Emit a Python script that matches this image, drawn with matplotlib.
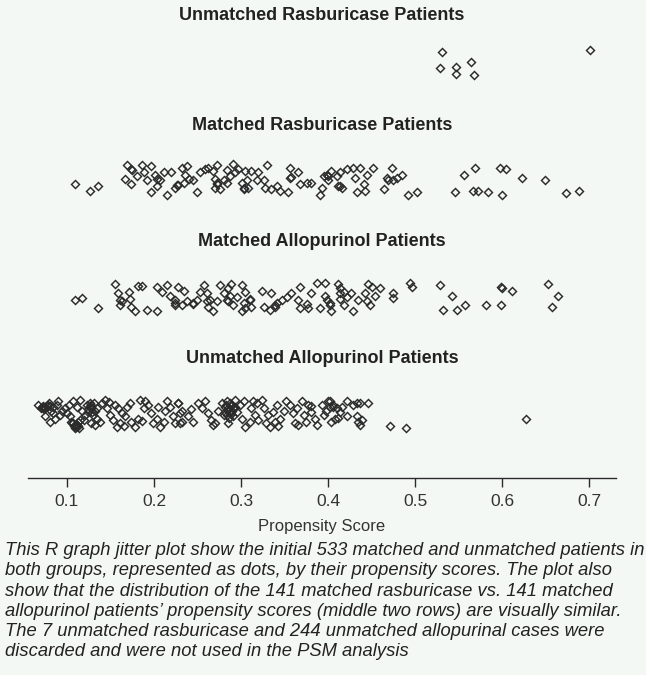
import matplotlib.pyplot as plt

# ---- data (propensity score, vertical jitter) ----
row_titles = ["Unmatched Allopurinol Patients", "Matched Allopurinol Patients",
              "Matched Rasburicase Patients", "Unmatched Rasburicase Patients"]

unm_ras_ps = [0.531, 0.529, 0.547, 0.547, 0.564, 0.568, 0.701]
unm_ras_jit = [0.085, -0.05, -0.04, -0.10, 0.0, -0.11, 0.10]

m_ras_ps = [0.109, 0.127, 0.136, 0.169, 0.174, 0.186, 0.197, 0.167, 0.174, 0.180, 0.188,
            0.192, 0.201, 0.197, 0.203, 0.207, 0.211, 0.220, 0.215, 0.224, 0.228, 0.232,
            0.238, 0.236, 0.234, 0.240, 0.245, 0.249, 0.253, 0.259, 0.262, 0.268, 0.272,
            0.270, 0.272, 0.276, 0.280, 0.284, 0.287, 0.291, 0.293, 0.297, 0.301, 0.303,
            0.307, 0.308,
            0.312, 0.320, 0.318, 0.330, 0.326, 0.328, 0.335, 0.341, 0.345, 0.354, 0.356,
            0.356, 0.357, 0.366, 0.368, 0.376, 0.381, 0.391, 0.393, 0.395, 0.399, 0.400,
            0.404, 0.410, 0.414, 0.412, 0.416, 0.422, 0.429, 0.431, 0.433, 0.437, 0.441,
            0.443, 0.445, 0.452, 0.464, 0.468, 0.473, 0.475, 0.479, 0.485, 0.492, 0.502,
            0.546, 0.556, 0.569, 0.567, 0.572, 0.584, 0.598, 0.605, 0.600, 0.623, 0.649,
            0.674, 0.688,
            0.175, 0.203, 0.226, 0.270, 0.272, 0.284, 0.305, 0.303, 0.414, 0.469, 0.400]
m_ras_jit = [-0.04, -0.10, -0.06, 0.12, 0.09, 0.12, 0.11, 0.0, -0.04, 0.03, 0.06,
             -0.01, 0.04, -0.11, -0.06, -0.01, 0.06, 0.06, -0.13, -0.07, -0.05, 0.10,
             0.11, 0.04, -0.03, 0.0, -0.01, -0.11, 0.06, 0.09, 0.10, 0.07, 0.12,
             0.0, -0.04, -0.08, -0.01, -0.03, 0.03, 0.13, 0.06, 0.09, -0.03, -0.08,
             -0.01, -0.07,
             0.07, 0.06, -0.01, 0.12, -0.01, -0.07, -0.08, -0.06, -0.10, -0.11, 0.10,
             0.01, 0.02, 0.06, -0.04, -0.03, -0.03, -0.13, -0.07, 0.03, 0.04, -0.01,
             0.07, 0.03, 0.06, -0.06, -0.07, 0.09, 0.10, 0.01, -0.11, 0.10, -0.04,
             -0.10, 0.04, 0.10, -0.08, 0.01, 0.10, -0.01, 0.01, 0.04, -0.13, -0.11,
             -0.11, 0.04, 0.10, -0.10, -0.10, -0.11, 0.10, 0.09, -0.13, 0.01, -0.01,
             -0.12, -0.10,
             0.08, 0.0, -0.05, -0.07, -0.03, 0.08, 0.07, -0.07, -0.06, -0.01, 0.03]

m_allo_ps = [0.109, 0.117, 0.136, 0.155, 0.159, 0.163, 0.171, 0.161, 0.172, 0.174, 0.182,
             0.186, 0.178, 0.192, 0.203, 0.203, 0.209, 0.215, 0.218, 0.224, 0.228, 0.234,
             0.224, 0.232, 0.238, 0.245, 0.249, 0.253, 0.257, 0.261, 0.264, 0.262, 0.268,
             0.272, 0.276, 0.280, 0.284, 0.285, 0.289, 0.291, 0.295, 0.301, 0.303, 0.305,
             0.301,
             0.324, 0.335, 0.310, 0.305, 0.312, 0.326, 0.333, 0.339, 0.341, 0.347, 0.353,
             0.358, 0.368, 0.366, 0.368, 0.377, 0.381, 0.376, 0.387, 0.397, 0.391, 0.397,
             0.399, 0.402, 0.404, 0.412, 0.414, 0.418, 0.414, 0.418, 0.422, 0.427, 0.429,
             0.435, 0.443, 0.446, 0.450, 0.445, 0.448, 0.454, 0.460, 0.475, 0.475, 0.494,
             0.496,
             0.529, 0.543, 0.532, 0.548, 0.558, 0.582, 0.599, 0.599, 0.600, 0.612, 0.653,
             0.664, 0.658,
             0.161, 0.224, 0.245, 0.285, 0.287, 0.261, 0.402, 0.414, 0.339, 0.310]
m_allo_jit = [-0.03, -0.01, -0.10, 0.11, 0.03, -0.04, 0.04, -0.07, -0.02, -0.09, 0.09,
              0.09, -0.12, -0.11, -0.12, 0.08, 0.04, 0.10, 0.01, -0.03, 0.08, 0.05,
              -0.07, -0.07, -0.04, -0.06, -0.03, 0.04, 0.10, 0.03, -0.03, -0.09, -0.12,
              -0.04, 0.10, 0.03, -0.03, 0.07, 0.11, -0.07, 0.0, -0.12, -0.05, 0.04,
              0.10,
              0.05, 0.03, -0.03, -0.10, -0.09, -0.09, -0.11, -0.09, -0.05, -0.03, 0.0,
              0.03, 0.08, -0.03, -0.10, -0.10, 0.03, -0.06, 0.12, 0.12, -0.10, 0.01,
              -0.03, -0.07, -0.12, 0.11, 0.07, 0.04, -0.02, -0.07, 0.0, 0.03, -0.12,
              -0.03, 0.03, 0.11, 0.08, -0.04, -0.07, 0.01, 0.07, 0.03, -0.01, 0.12,
              0.08,
              0.10, 0.01, -0.11, -0.11, -0.07, -0.07, -0.07, 0.08, 0.07, 0.05, 0.11,
              0.01, -0.09,
              -0.03, -0.05, -0.05, -0.04, 0.01, -0.04, -0.05, 0.03, -0.07, -0.02]

unm_allo_ps = [0.067, 0.073, 0.079, 0.082, 0.088, 0.090, 0.094, 0.075, 0.080, 0.086, 0.092,
               0.098, 0.102, 0.107, 0.111, 0.115, 0.117, 0.103, 0.107, 0.113, 0.119, 0.123,
               0.126, 0.128, 0.130, 0.134, 0.128, 0.132, 0.138, 0.140, 0.144, 0.146, 0.149,
               0.153, 0.155, 0.159, 0.157, 0.161, 0.163, 0.167, 0.169, 0.172, 0.174, 0.178,
               0.182, 0.184, 0.188, 0.190, 0.193, 0.197, 0.199, 0.203, 0.207, 0.211, 0.213,
               0.215, 0.218, 0.222, 0.224, 0.228, 0.230, 0.232,
               0.105, 0.109, 0.115, 0.121, 0.124, 0.128, 0.077, 0.071, 0.084, 0.100,
               0.228, 0.232, 0.230, 0.239, 0.245, 0.251, 0.255, 0.259, 0.262, 0.266, 0.270,
               0.274, 0.278, 0.282, 0.284, 0.285, 0.287, 0.291, 0.293, 0.295, 0.299, 0.303,
               0.301, 0.305, 0.310, 0.312, 0.314, 0.316, 0.320, 0.324, 0.326, 0.329, 0.333,
               0.331, 0.337, 0.341, 0.339, 0.345, 0.349, 0.352, 0.356, 0.360, 0.362, 0.366,
               0.364, 0.370, 0.372, 0.375, 0.377, 0.381, 0.385, 0.387, 0.393, 0.395, 0.398,
               0.402, 0.404, 0.406,
               0.282, 0.285, 0.287, 0.289, 0.291, 0.284, 0.280, 0.293,
               0.400, 0.402, 0.406, 0.410, 0.414, 0.416, 0.422, 0.429, 0.433, 0.437, 0.446,
               0.408, 0.422, 0.433, 0.435, 0.437, 0.439, 0.471, 0.490, 0.627,
               # darker overlap clusters
               0.072, 0.075, 0.078, 0.081, 0.084, 0.070, 0.074,
               0.106, 0.108, 0.110, 0.112, 0.114, 0.109, 0.111, 0.113,
               0.124, 0.126, 0.129, 0.131, 0.134, 0.127, 0.132,
               0.286, 0.288, 0.290, 0.283, 0.292, 0.286, 0.289,
               0.148, 0.165, 0.186, 0.205, 0.243, 0.268, 0.318, 0.343, 0.380, 0.412]
unm_allo_jit = [0.08, 0.05, 0.09, 0.03, 0.08, 0.11, 0.03, -0.02, -0.07, -0.04, -0.01,
                0.05, 0.08, 0.11, 0.06, 0.12, 0.03, -0.02, -0.08, -0.07, -0.05, 0.08,
                0.09, 0.05, -0.01, -0.04, -0.08, -0.09, -0.07, 0.09, 0.12, 0.05, -0.01,
                -0.05, 0.08, 0.05, -0.11, -0.08, 0.01, -0.02, 0.06, 0.09, -0.07, -0.11,
                -0.04, 0.12, 0.05, 0.11, 0.08, 0.01, -0.08, -0.04, -0.11, -0.07, 0.03,
                0.11, 0.06, -0.02, -0.08, 0.09, 0.01, -0.07,
                -0.07, -0.09, -0.05, -0.01, 0.02, 0.08, 0.07, 0.06, 0.01, 0.01,
                0.09, 0.03, -0.08, -0.02, -0.07, 0.09, 0.05, 0.11, 0.01, -0.05, -0.08,
                0.03, 0.09, 0.06, -0.01, -0.08, 0.09, 0.05, 0.12, 0.02, 0.08, 0.11,
                -0.04, -0.11, -0.07, 0.05, 0.11, -0.01, -0.05, 0.12, 0.05, -0.08, -0.11,
                -0.01, 0.02, 0.08, -0.07, -0.04, 0.03, 0.11, 0.08, 0.01, -0.08, -0.09,
                0.05, 0.11, -0.01, -0.07, 0.08, 0.02, -0.04, -0.09, 0.08, -0.01, 0.03,
                0.11, -0.07, 0.06,
                0.02, 0.05, 0.01, 0.08, -0.02, 0.11, -0.01, 0.06,
                0.11, 0.06, 0.08, 0.05, 0.02, 0.06, 0.11, 0.08, 0.09, 0.09, 0.09,
                -0.04, -0.02, -0.02, -0.07, -0.09, -0.05, -0.10, -0.12, -0.045,
                0.07, 0.06, 0.08, 0.07, 0.06, 0.05, 0.04,
                -0.08, -0.10, -0.11, -0.09, -0.12, -0.12, -0.09, -0.10,
                0.04, 0.07, 0.02, 0.09, 0.05, 0.06, 0.03,
                0.04, 0.07, 0.03, 0.08, 0.05, -0.03, 0.00,
                0.10, -0.10, -0.06, 0.06, 0.04, -0.09, 0.09, -0.10, 0.07, -0.03]

caption = ("This R graph jitter plot show the initial 533 matched and unmatched patients in\n"
           "both groups, represented as dots, by their propensity scores. The plot also\n"
           "show that the distribution of the 141 matched rasburicase vs. 141 matched\n"
           "allopurinol patients\u2019 propensity scores (middle two rows) are visually similar.\n"
           "The 7 unmatched rasburicase and 244 unmatched allopurinal cases were\n"
           "discarded and were not used in the PSM analysis")

bg = "#f4f8f5"
ink = "#2b2b2b"
plt.rcParams["font.family"] = ["Liberation Sans", "DejaVu Sans"]

fig = plt.figure(figsize=(6.46, 6.75), dpi=100, facecolor=bg)
ax = fig.add_axes([28 / 646, 197 / 675, 588 / 646, 478 / 675])
ax.set_facecolor(bg)

groups = [(unm_allo_ps, unm_allo_jit), (m_allo_ps, m_allo_jit),
          (m_ras_ps, m_ras_jit), (unm_ras_ps, unm_ras_jit)]
title_gap = [0.47, 0.47, 0.46, 0.40]
for row, (ps, jit) in enumerate(groups):
    ax.plot(ps, [row + j for j in jit], "D", ms=4.5, mfc="none", mec=ink, mew=1.05)
    ax.text(0.393, row + title_gap[row], row_titles[row], ha="center", va="center",
            fontsize=13, fontweight="bold", color="#222222")

ax.set_xlim(0.0552, 0.731)
ax.set_ylim(-0.545, 3.528)
ax.set_xticks([0.1, 0.2, 0.3, 0.4, 0.5, 0.6, 0.7])
ax.set_yticks([])
for s in ["top", "left", "right"]:
    ax.spines[s].set_visible(False)
ax.spines["bottom"].set_color(ink)
ax.spines["bottom"].set_linewidth(1.0)
ax.tick_params(axis="x", length=6.5, width=1.0, color=ink, labelsize=12.5,
               labelcolor="#333333", pad=5)
ax.set_xlabel("Propensity Score", fontsize=12, color="#333333", labelpad=7)

fig.text(5 / 646, 1 - 542 / 675, caption, ha="left", va="top", fontsize=13.2,
         style="italic", color="#222222", linespacing=1.25)

fig.savefig("out.png", dpi=100, facecolor=bg)
